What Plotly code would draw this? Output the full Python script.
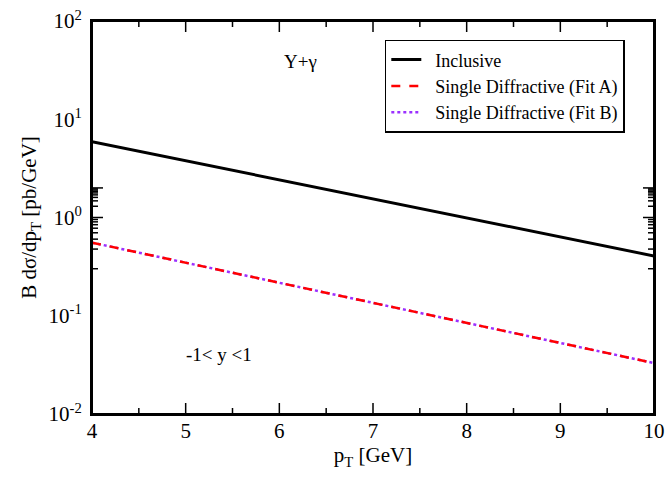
import math
import plotly.graph_objects as go

pt = [4, 5, 6, 7, 8, 9, 10]
inclusive = [5.9, 3.78, 2.43, 1.57, 1.0, 0.64, 0.406]
diff_fit_a = [0.555, 0.347, 0.217, 0.136, 0.085, 0.053, 0.033]
diff_fit_b = [0.555, 0.347, 0.217, 0.136, 0.085, 0.053, 0.033]
y_tick_vals = [0.01, 0.1, 1, 10, 100]
y_tick_text = ["10<sup>-2</sup>", "10<sup>-1</sup>", "10<sup>0</sup>", "10<sup>1</sup>", "10<sup>2</sup>"]
x_tick_vals = [4, 5, 6, 7, 8, 9, 10]

y_minor_vals = [m * 10.0 ** e for e in range(-2, 2) for m in range(2, 10)]
x_minor_vals = [v + 0.5 for v in x_tick_vals[:-1]]

FONT = "Liberation Serif"
TICK_STYLE = dict(color="black", width=1.5)
PAD = "\u00a0\u00a0"

fig = go.Figure()
fig.add_trace(go.Scatter(x=pt, y=inclusive, mode="lines", name=PAD + "Inclusive",
                         line=dict(color="black", width=3)))
fig.add_trace(go.Scatter(x=pt, y=diff_fit_b, mode="lines", name=PAD + "Single Diffractive (Fit B)",
                         line=dict(color="#9b30ff", width=2.5, dash="dot"), showlegend=False))
fig.add_trace(go.Scatter(x=pt, y=diff_fit_a, mode="lines", name=PAD + "Single Diffractive (Fit A)",
                         line=dict(color="red", width=2.5, dash="dash")))
fig.add_trace(go.Scatter(x=[None], y=[None], mode="lines", name=PAD + "Single Diffractive (Fit B)",
                         line=dict(color="#9b30ff", width=2.5, dash="dot")))

# frame and inside ticks (drawn as layout shapes)
shapes = [dict(type="rect", xref="paper", yref="paper", x0=0, x1=1, y0=0, y1=1,
               line=dict(color="black", width=2), layer="above")]
for vals, L in ((x_tick_vals, 11), (x_minor_vals, 6)):
    for v in vals:
        for anchor, sign in ((0, 1), (1, -1)):
            shapes.append(dict(type="line", xref="x", yref="paper", x0=v, x1=v,
                               ysizemode="pixel", yanchor=anchor, y0=0, y1=sign * L,
                               line=TICK_STYLE, layer="above"))
for vals, L in ((y_tick_vals, 11), (y_minor_vals, 6)):
    for v in vals:
        lv = math.log10(v)
        for anchor, sign in ((0, 1), (1, -1)):
            shapes.append(dict(type="line", xref="paper", yref="y", y0=lv, y1=lv,
                               xsizemode="pixel", xanchor=anchor, x0=0, x1=sign * L,
                               line=TICK_STYLE, layer="above"))

fig.update_xaxes(range=[4, 10], tickmode="array", tickvals=x_tick_vals,
                 showline=True, linecolor="black", linewidth=2, mirror=True,
                 ticks="", ticklabelstandoff=-3,
                 showgrid=False, zeroline=False, automargin=False,
                 tickfont=dict(family=FONT, size=21, color="black"),
                 title=dict(text="p<sub>T</sub> [GeV]", font=dict(family=FONT, size=21, color="black"),
                            standoff=0))
fig.update_yaxes(type="log", range=[-2, 2], tickmode="array", tickvals=y_tick_vals, ticktext=y_tick_text,
                 showline=True, linecolor="black", linewidth=2, mirror=True,
                 ticks="", ticklabelstandoff=4,
                 showgrid=False, zeroline=False, automargin=False,
                 tickfont=dict(family=FONT, size=21, color="black"),
                 title=dict(text="B dσ/dp<sub>T</sub> [pb/GeV]", font=dict(family=FONT, size=21, color="black"),
                            standoff=6))

fig.add_annotation(x=6.23, y=1.59, xref="x", yref="y", yanchor="middle", text="Υ+γ", showarrow=False,
                   font=dict(family=FONT, size=19, color="black"))
fig.add_annotation(x=5.356, y=-1.39, xref="x", yref="y", yanchor="middle", text="-1< y <1", showarrow=False,
                   font=dict(family=FONT, size=19, color="black"))

fig.update_layout(
    width=667, height=477,
    margin=dict(l=92, r=13, t=21, b=63),
    paper_bgcolor="white", plot_bgcolor="white",
    shapes=shapes,
    legend=dict(x=0.521, y=0.952, xanchor="left", yanchor="top",
                bgcolor="white", bordercolor="black", borderwidth=1.5,
                font=dict(family=FONT, size=18, color="black"),
                tracegroupgap=0, itemwidth=30),
)

fig.write_html("out.html", config={"displayModeBar": False},
               post_script="document.body.style.margin='0px';")
